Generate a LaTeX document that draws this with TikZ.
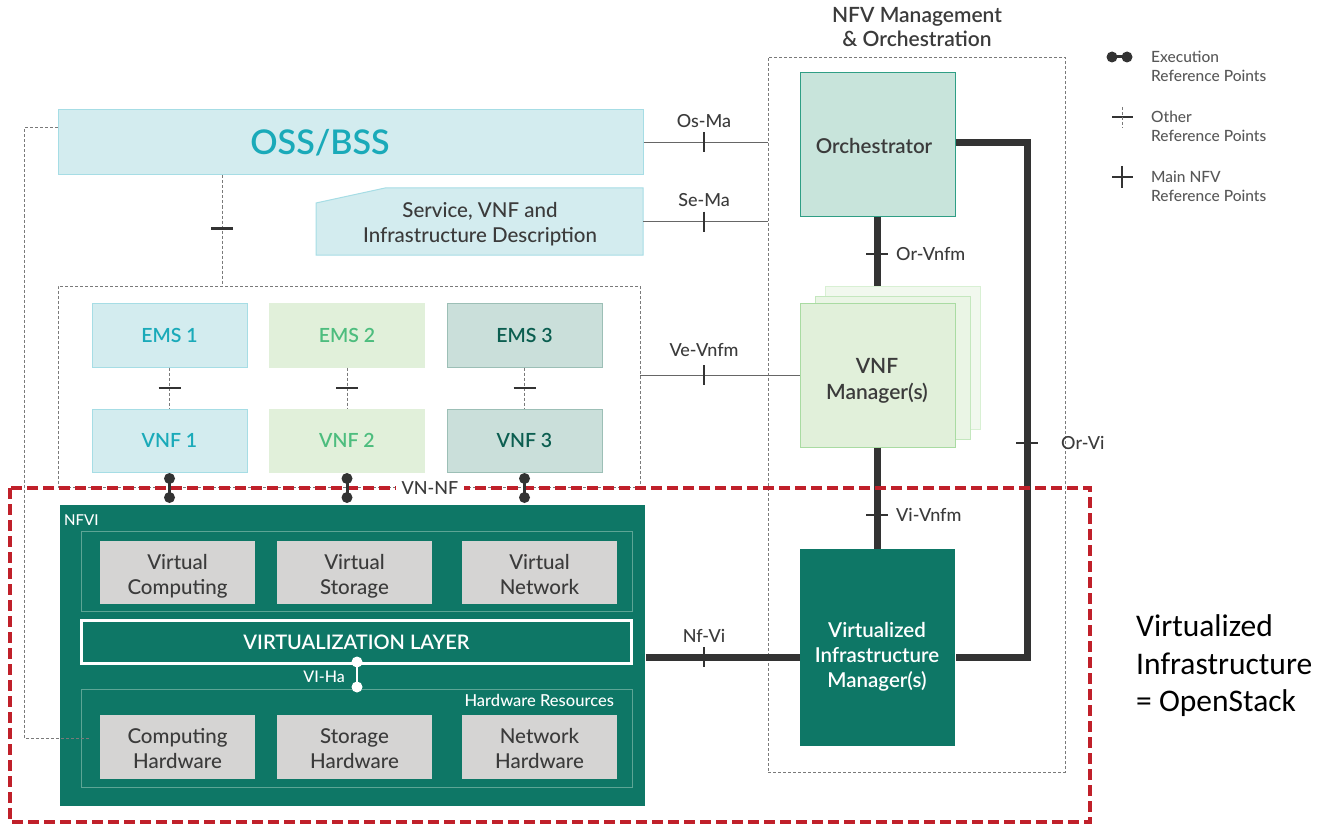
\documentclass[tikz,border=0pt]{standalone}
\usepackage{fontspec}
\setmainfont{Lato Medium}[BoldFont=Lato Semibold]
\newfontfamily\calibfont{Carlito}
\usetikzlibrary{calc}
\newcommand\myfs[2]{\fontsize{#1pt}{#2pt}\selectfont}
\definecolor{teal}{HTML}{0E7766}
\definecolor{tealline}{HTML}{5DA595}
\definecolor{cyfill}{HTML}{D3ECEF}
\definecolor{cyline}{HTML}{A6DDE5}
\definecolor{cytext}{HTML}{1AAAB9}
\definecolor{grfill}{HTML}{E1F0DA}
\definecolor{grline}{HTML}{E1F0DA}
\definecolor{grtext}{HTML}{4DBD7E}
\definecolor{sgfill}{HTML}{CADFDA}
\definecolor{sgline}{HTML}{9CBFB6}
\definecolor{sgtext}{HTML}{0B5E50}
\definecolor{orfill}{HTML}{C8E4DB}
\definecolor{orline}{HTML}{2F9E85}
\definecolor{vmline}{HTML}{A9DBA2}
\definecolor{vmfillb}{HTML}{EAF5E5}
\definecolor{vmlineb}{HTML}{C4E7BE}
\definecolor{vmfillc}{HTML}{F1F8EE}
\definecolor{vmlinec}{HTML}{D8F0D3}
\definecolor{gybox}{HTML}{D5D4D3}
\definecolor{txt}{HTML}{3B3B3B}
\definecolor{linedark}{HTML}{333333}
\definecolor{thinline}{HTML}{666666}
\definecolor{dashgray}{HTML}{7A7A7A}
\definecolor{redd}{HTML}{C0202A}
\begin{document}
\begin{tikzpicture}[x=1pt,y=-1pt,
  wh/.style 2 args={minimum width=#1pt, minimum height=#2pt},
  box/.style={draw, inner sep=0pt, align=center, anchor=center, line width=1pt},
  cybox/.style={box, fill=cyfill, draw=cyline, text=cytext, font=\bfseries\myfs{19.5}{24}},
  grbox/.style={box, fill=grfill, draw=grline, text=grtext, font=\bfseries\myfs{19.5}{24}},
  sgbox/.style={box, fill=sgfill, draw=sgline, text=sgtext, font=\bfseries\myfs{19.5}{24}},
  gbox/.style={box, fill=gybox, draw=none},
  gtxt/.style={text=txt, font=\myfs{20.5}{24.5}, align=center, inner sep=0pt},
  grp/.style={draw=dashgray, dash pattern=on 3pt off 2pt, line width=0.8pt, inner sep=0pt, anchor=center},
  inner/.style={draw=tealline, line width=1pt, inner sep=0pt, anchor=center},
  thick/.style={draw=linedark, line width=7pt},
  thinl/.style={draw=thinline, line width=1pt},
  dashl/.style={draw=dashgray, dash pattern=on 3pt off 2pt, line width=0.8pt},
  lbl/.style={text=txt, font=\myfs{18}{20}, inner sep=1pt},
  leg/.style={text=txt!85, font=\myfs{15.5}{19}, align=left, anchor=west, inner sep=0pt},
  exec/.style={draw=linedark, line width=3pt},
  vtick/.pic={\draw[line width=2.6pt, draw=linedark] (0,-10) -- (0,10);},
  htick/.pic={\draw[line width=2.6pt, draw=linedark] (-11,0) -- (11,0);}
]
\useasboundingbox (0,0) rectangle (1318,824);

% ---- top boxes
\node[cybox, wh={585}{65}] (oss) at (350.5,142.5) {};
\node[text=cytext, font=\bfseries\myfs{34}{36}, inner sep=0pt] (osstxt) at (320,143) {OSS/BSS};
\draw[fill=cyfill, draw=cyline, line width=1pt] (316,203) -- (385,188) -- (643,188) -- (643,255) -- (316,255) -- cycle;
\node[inner sep=0pt, wh={327}{67}] (svc) at (479.5,221.5) {};
\node[gtxt, font=\myfs{20.5}{25}] (svctxt) at (480,224) {Service, VNF and\\Infrastructure Description};

% ---- EMS / VNF group
\node[grp, wh={582}{201}] (emsgrp) at (349,386.5) {};
\node[cybox, wh={155}{64}] (ems1) at (169.5,335) {EMS 1};
\node[grbox, wh={155}{64}] (ems2) at (347,335) {EMS 2};
\node[sgbox, wh={155}{64}] (ems3) at (524.5,335) {EMS 3};
\node[cybox, wh={155}{63}] (vnf1) at (169.5,440.5) {VNF 1};
\node[grbox, wh={155}{63}] (vnf2) at (347,440.5) {VNF 2};
\node[sgbox, wh={155}{63}] (vnf3) at (524.5,440.5) {VNF 3};

% ---- NFVI
\node[box, draw=none, fill=teal, wh={585}{301}] (nfvi) at (352.5,655.5) {};
\node[anchor=west, text=white, font=\myfs{15}{16}, inner sep=0pt] (nfvilbl) at (64,520) {NFVI};
\node[inner, wh={551}{80}] (virt) at (356.5,571) {};
\node[gbox, wh={155}{63}] (vc) at (177.5,572.5) {};
\node[gbox, wh={155}{63}] (vs) at (354.5,572.5) {};
\node[gbox, wh={155}{63}] (vn) at (539.5,572.5) {};
\node[gtxt] (vctxt) at (177.5,577) {Virtual\strut\\Computing\strut};
\node[gtxt] (vstxt) at (354.5,577) {Virtual\strut\\Storage\strut};
\node[gtxt] (vntxt) at (539.5,577) {Virtual\strut\\Network\strut};
\node[box, draw=white, line width=2.5pt, fill=teal, text=white, wh={550}{43}, font=\bfseries\myfs{20}{22}] (vl) at (356.5,642) {VIRTUALIZATION LAYER};
\node[inner, wh={551}{98}] (hwres) at (356.5,738) {};
\node[anchor=east, text=white, font=\myfs{16.5}{17}, inner sep=0pt] (hwlbl) at (614,700) {Hardware Resources};
\node[gbox, wh={155}{64}] (ch) at (177.5,747) {};
\node[gbox, wh={155}{64}] (sh) at (354.5,747) {};
\node[gbox, wh={155}{64}] (nh) at (539.5,747) {};
\node[gtxt] (chtxt) at (177.5,751) {Computing\strut\\Hardware\strut};
\node[gtxt] (shtxt) at (354.5,751) {Storage\strut\\Hardware\strut};
\node[gtxt] (nhtxt) at (539.5,751) {Network\strut\\Hardware\strut};
% VI-Ha
\draw[draw=white, line width=2.5pt] (357,662) coordinate (viha) -- (357,687) coordinate (vihb);
\fill[white] (viha) circle (5.5pt) (vihb) circle (5.5pt);
\node[anchor=east, text=white, font=\myfs{16}{18}, inner sep=0pt] (vihalbl) at (345,677) {VI-Ha};

% ---- MANO
\node[grp, wh={297}{715}] (mano) at (916.5,414.5) {};
\node[align=center, text=txt, font=\bfseries\myfs{21}{24}, inner sep=0pt] (manolbl) at (917,27) {NFV Management\\\& Orchestration};
\node[box, fill=orfill, draw=orline, wh={155}{143}] (orch) at (877.5,144.5) {};
\node[text=txt, font=\bfseries\myfs{20.5}{24}, inner sep=0pt] (orchtxt) at (874,146) {Orchestrator};
\node[box, fill=vmfillc, draw=vmlinec, wh={155}{143}] (vnfmb) at (902.5,357.5) {};
\node[box, fill=vmfillb, draw=vmlineb, wh={155}{143}] (vnfmm) at (892.5,367.5) {};
\node[box, fill=grfill, draw=vmline, wh={155}{144}] (vnfm) at (877.5,375) {};
\node[gtxt, font=\bfseries\myfs{21}{26}] (vnfmtxt) at (877,381) {VNF\\Manager(s)};
\node[box, draw=none, fill=teal, wh={155}{197}] (vim) at (877.5,647.5) {};
\node[gtxt, text=white, font=\bfseries\myfs{20.5}{25}] (vimtxt) at (877,657) {Virtualized\\Infrastructure\\Manager(s)};

% ---- connectors: dashed
\coordinate (dropx) at (222,0);
\draw[dashl] (oss.south -| dropx) -- (emsgrp.north -| dropx);
\path ($(oss.south -| dropx)!0.5!(emsgrp.north -| dropx)$) ++(0,-2) pic{htick};
\draw[dashl] ($(oss.west)+(0,-15)$) -- ++(-33,0) |- ($(hwres.west)+(9,0)$);
\foreach \i in {1,2,3}{
  \draw[dashl] (ems\i.south) -- (vnf\i.north);
  \path ($(ems\i.south)!0.5!(vnf\i.north)$) pic{htick};
}

% ---- connectors: thin
\coordinate (tx) at (704,0);
\draw[thinl] (oss.east) -- (mano.west |- oss.east);
\path (oss.east -| tx) pic{vtick};
\node[lbl] (osma) at (704,121) {Os-Ma};
\draw[thinl] (svc.east) -- (mano.west |- svc.east);
\path (svc.east -| tx) pic{vtick};
\node[lbl] (sema) at (704,200) {Se-Ma};
\draw[thinl] (emsgrp.east |- vnfm.west) -- (vnfm.west);
\path (vnfm.west -| tx) pic{vtick};
\node[lbl] (vevnfm) at (704,350) {Ve-Vnfm};

% ---- connectors: thick
\draw[thick] (orch.south) -- (orch.south |- vnfmb.north);
\path (877,254) pic{htick};
\node[lbl, anchor=west] (orvnfm) at (895,254) {Or-Vnfm};
\draw[thick] (vnfm.south) -- (vim.north);
\path (877,515) pic{htick};
\node[lbl, anchor=west] (vivnfm) at (895,515) {Vi-Vnfm};
\draw[thick, line join=miter] (orch.east |- 0,143) -- (1027,143) -- (1027,657) -- (vim.east |- 0,657);
\path (1027,443) pic{htick};
\node[lbl, anchor=west] (orvi) at (1060,443) {Or-Vi};
\draw[thick] (nfvi.east |- 0,657) -- (vim.west |- 0,657);
\path (704,657) pic{vtick};
\node[lbl] (nfvilb) at (704,636) {Nf-Vi};

% ---- red dashed region
\draw[draw=redd, line width=4pt, dash pattern=on 11pt off 5pt] (10,488) rectangle (1090,822);
\node[lbl, fill=white, inner xsep=6pt, inner ysep=2pt] (vnnf) at (430,488) {VN-NF};

% ---- execution reference points
\foreach \i in {1,2,3}{
  \draw[exec] ($(vnf\i.south)+(0,6)$) coordinate (ea\i) -- ($(vnf\i.south |- nfvi.north)+(0,-7)$) coordinate (eb\i);
  \fill[linedark] (ea\i) circle (5.5pt) (eb\i) circle (5.5pt);
}

% ---- legend
\draw[exec] (1112,57) coordinate (la) -- (1127,57) coordinate (lb);
\fill[linedark] (la) circle (5.5pt) (lb) circle (5.5pt);
\node[leg] (leg1) at (1151,66) {Execution\\Reference Points};
\draw[draw=linedark, line width=2pt] (1112,117) -- (1133,117);
\draw[dashl, line width=0.7pt] (1122,107) -- (1122,128);
\node[leg] (leg2) at (1151,126) {Other\\Reference Points};
\draw[draw=linedark, line width=2.6pt] (1112,177) -- (1133,177);
\draw[draw=linedark, line width=2.6pt] (1122,166) -- (1122,188);
\node[leg] (leg3) at (1151,186) {Main NFV\\Reference Points};

% ---- right text
\node[anchor=west, align=left, font=\calibfont\myfs{31.5}{37.5}, text=black, inner sep=0pt] (osnote) at (1136,666) {Virtualized\\Infrastructure\\= OpenStack};
\end{tikzpicture}
\end{document}
